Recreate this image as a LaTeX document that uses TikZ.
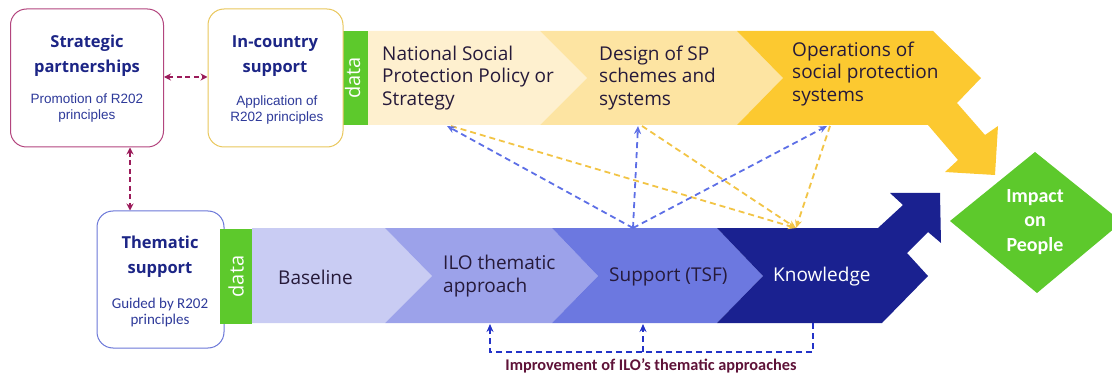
\documentclass[tikz,border=0pt]{standalone}
\usepackage{fontspec}
\setmainfont{Open Sans}
\newfontfamily\calib{Carlito}
\newfontfamily\arialf{Liberation Sans}
\usetikzlibrary{arrows.meta}

% palette
\definecolor{seedA}{HTML}{FEF0CF}
\definecolor{seedB}{HTML}{FDE4A2}
\definecolor{seedC}{HTML}{FCC930}
\definecolor{lavA}{HTML}{C9CCF3}
\definecolor{lavB}{HTML}{9CA2EA}
\definecolor{lavC}{HTML}{6C78E0}
\definecolor{navyD}{HTML}{1A2190}
\definecolor{leaf}{HTML}{5DC92C}
\definecolor{titleblue}{HTML}{1C2586}
\definecolor{subblue}{HTML}{2E3A9A}
\definecolor{inktext}{HTML}{261A3A}
\definecolor{plum}{HTML}{9B1B5A}
\definecolor{plumbox}{HTML}{B3457E}
\definecolor{goldbox}{HTML}{E9C75C}
\definecolor{bluebox}{HTML}{6B77D8}
\definecolor{dashblue}{HTML}{5D6FE6}
\definecolor{dashgold}{HTML}{F2C445}
\definecolor{deepblue}{HTML}{2433C8}
\definecolor{maroon}{HTML}{5E1238}

\tikzset{
  card/.style={draw, line width=1pt, rounded corners=16pt, fill=white},
  cardtitle/.style={font=\bfseries\fontsize{16.5}{25}\selectfont, text=titleblue, align=center, inner sep=0pt},
  cardsub/.style={font=\arialf\fontsize{13.5}{16}\selectfont, text=subblue, align=center, inner sep=0pt},
  datatab/.style={fill=leaf, draw=none},
  datalabel/.style={font=\fontsize{20}{20}\selectfont, text=white, rotate=90, inner sep=0pt},
  bandtext/.style={font=\fontsize{19}{22.5}\selectfont, text=inktext, align=left, anchor=west, inner sep=0pt},
  linkplum/.style={draw=plum, line width=1.8pt, dash pattern=on 5pt off 3.5pt, {Stealth[length=7pt,width=7pt]}-{Stealth[length=7pt,width=7pt]}},
  linkblue/.style={draw=dashblue, line width=1.8pt, dash pattern=on 6pt off 4pt, -{Stealth[length=8pt,width=7pt]}},
  linkgold/.style={draw=dashgold, line width=1.8pt, dash pattern=on 6pt off 4pt, -{Stealth[length=8pt,width=7pt]}},
  linkdeep/.style={draw=deepblue, line width=1.8pt, dash pattern=on 6pt off 4pt},
}

\begin{document}
\begin{tikzpicture}[x=1pt, y=-1pt]
\useasboundingbox (0,0) rectangle (1112,377);

% ---- upper band: policy -> design -> operations, bending toward impact
\fill[seedA] (368,31) -- (540,31) -- (587,78) -- (540,125) -- (368,125) -- cycle;
\fill[seedB] (540,31) -- (737,31) -- (783,78) -- (737,125) -- (540,125) -- (587,78) -- cycle;
\fill[seedC] (737,31) -- (933,31) -- (981,78) -- (957,103) -- (985,135) -- (998,126)
  -- (995,175) -- (945,172) -- (958,160) -- (928,125) -- (737,125) -- (783,78) -- cycle;
\fill[datatab] (337,31) rectangle (368,125);
\node[datalabel] (datatop) at (352.5,78) {data};

% ---- lower band: baseline -> approach -> support -> knowledge
\fill[lavA] (252,228) -- (385,228) -- (432,276) -- (385,323) -- (252,323) -- cycle;
\fill[lavB] (385,228) -- (552,228) -- (598,276) -- (552,323) -- (385,323) -- (432,276) -- cycle;
\fill[lavC] (552,228) -- (717,228) -- (763,276) -- (717,323) -- (552,323) -- (598,276) -- cycle;
\fill[navyD] (717,228) -- (878,228) -- (903,205) -- (890,193) -- (940,193) -- (941,243)
  -- (928,232) -- (907,253) -- (928,276) -- (882,323) -- (717,323) -- (763,276) -- cycle;

% ---- impact diamond at the right edge
\begin{scope}
  \clip (0,0) rectangle (1112,377);
  \fill[leaf] (950,221) -- (1035,152) -- (1122,222) -- (1037,293) -- cycle;
\end{scope}
\node[font=\calib\bfseries\fontsize{20}{24.5}\selectfont, text=white, align=center, inner sep=0pt]
  (impact) at (1035,222) {Impact\\on\\People};

% ---- band texts
\node[bandtext] (policy) at (382,78) {National Social\\Protection Policy or\\Strategy};
\node[bandtext] (design) at (599,78) {Design of SP\\schemes and\\systems};
\node[bandtext] (operations) at (792,74) {Operations of\\social protection\\systems};
\node[bandtext] (baseline) at (278,277) {Baseline};
\node[bandtext] (approach) at (443,276) {ILO thematic\\approach};
\node[bandtext] (support) at (609,277) {Support (TSF)};
\node[bandtext, text=white] (knowledge) at (773,277) {Knowledge};

% ---- cards
\node[card, draw=plumbox, minimum width=153pt, minimum height=138pt] (strategic) at (87,78) {};
\node[card, draw=goldbox, minimum width=135pt, minimum height=138pt] (incountry) at (275.5,78) {};
\node[card, draw=bluebox, minimum width=127pt, minimum height=137pt] (thematic) at (160.5,279.5) {};
\fill[datatab] (220,229) rectangle (252,324);
\node[datalabel] (databot) at (236,276.5) {data};

\node[cardtitle] (strategic-t) at (87,56) {Strategic\\partnerships};
\node[cardsub] (strategic-s) at (87,108) {Promotion of R202\\principles};
\node[cardtitle] (incountry-t) at (275,56) {In-country\\support};
\node[cardsub] (incountry-s) at (277,110) {Application of\\R202 principles};
\node[cardtitle] (thematic-t) at (160,257) {Thematic\\support};
\node[cardsub, font=\calib\fontsize{15}{16}\selectfont] (thematic-s) at (160,312) {Guided by R202\\principles};

% ---- links between cards
\draw[linkplum] (strategic.east |- 0,77) -- (incountry.west |- 0,77);
\draw[linkplum] (strategic.south -| 130,0) -- (thematic.north -| 130,0);

% ---- crossing links between the two bands
\coordinate (supp-top) at (633,228);
\coordinate (know-top) at (796,228);
\coordinate (pol-foot) at (447,126);
\coordinate (des-foot) at (638,126);
\coordinate (ops-foot) at (827,126);
\coordinate (pol-foot2) at (451,126);
\coordinate (des-foot2) at (642,126);
\coordinate (ops-foot2) at (830,126);

\draw[linkgold] (pol-foot2) -- (know-top);
\draw[linkgold] (des-foot2) -- (know-top);
\draw[linkgold] (ops-foot2) -- (know-top);
\draw[linkblue] (supp-top) -- (pol-foot);
\draw[linkblue] (supp-top) -- (des-foot);
\draw[linkblue] (supp-top) -- (ops-foot);

% ---- feedback loop under the lower band
\coordinate (know-foot) at (813,323);
\coordinate (loop-r) at (813,352);
\coordinate (loop-m) at (643,352);
\coordinate (appr-foot) at (490,324);
\coordinate (supp-foot) at (643,324);
\draw[linkdeep, -{Stealth[length=8pt,width=7pt]}] (know-foot) -- (loop-r) -| (appr-foot);
\draw[linkdeep, -{Stealth[length=8pt,width=7pt]}] (loop-m) -- (supp-foot);
\node[font=\calib\bfseries\fontsize{16.3}{18}\selectfont, text=maroon, inner sep=0pt]
  (loop-label) at (651,366) {Improvement of ILO’s thematic approaches};

\end{tikzpicture}
\end{document}
